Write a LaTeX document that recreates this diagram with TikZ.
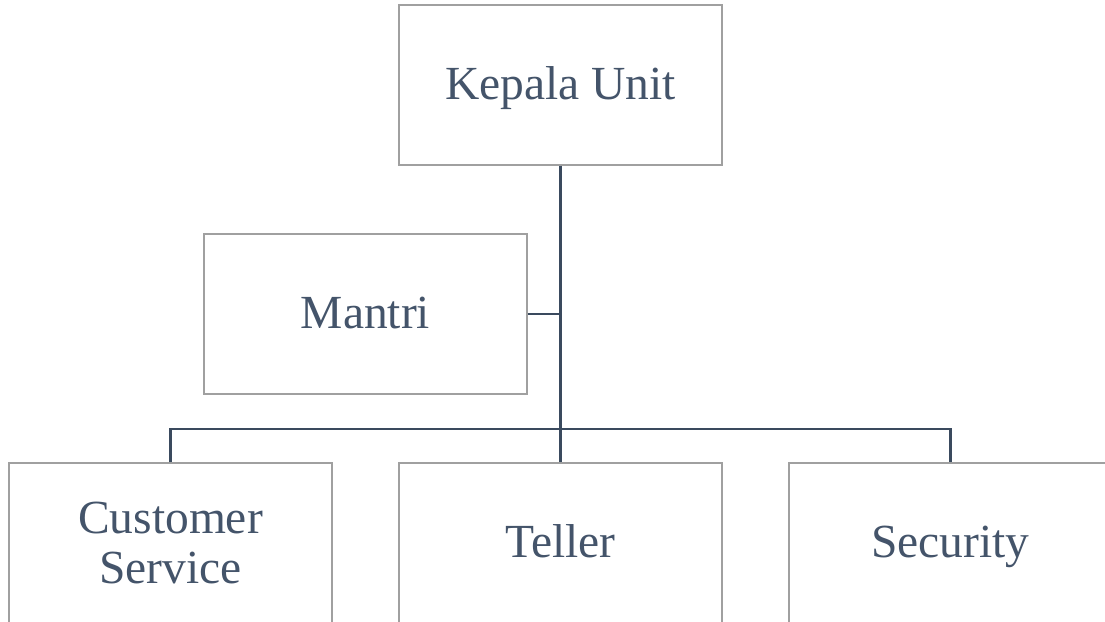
\documentclass[tikz,border=0pt]{standalone}
\usepackage{fontspec}
\setmainfont{Liberation Serif}
\definecolor{txt}{HTML}{44546A}
\definecolor{conn}{HTML}{3A4A5E}
\definecolor{bord}{HTML}{A0A0A0}
\tikzset{
  orgbox/.style={draw=bord, line width=1.3pt, fill=white, minimum width=323pt, minimum height=160pt,
    inner sep=0pt, text=txt, align=center, font=\fontsize{47.5}{50}\selectfont},
  oneline/.style={text height=36pt, text depth=7pt},
  link/.style={draw=conn, line width=2.4pt}
}
\begin{document}
\begin{tikzpicture}[x=1pt,y=-1pt]
\useasboundingbox (0,0) rectangle (1105,621);
\clip (0,0) rectangle (1105,621);
\fill[white] (0,0) rectangle (1105,621);
\node[orgbox,oneline] (kepala) at (560.5,85) {Kepala Unit};
\node[orgbox,oneline] (mantri) at (365.5,314) {Mantri};
\node[orgbox] (cs) at (170.5,543) {Customer\\Service};
\node[orgbox,oneline] (teller) at (560.5,543) {Teller};
\node[orgbox,oneline] (sec) at (950.5,543) {Security};
\coordinate (bus) at (560.5,429);
\draw[link] (kepala.south) -- (teller.north);
\draw[link] (mantri.east) -- (mantri.east -| kepala.south);
\draw[link] (cs.north) |- (bus) -| (sec.north);
\end{tikzpicture}
\end{document}
